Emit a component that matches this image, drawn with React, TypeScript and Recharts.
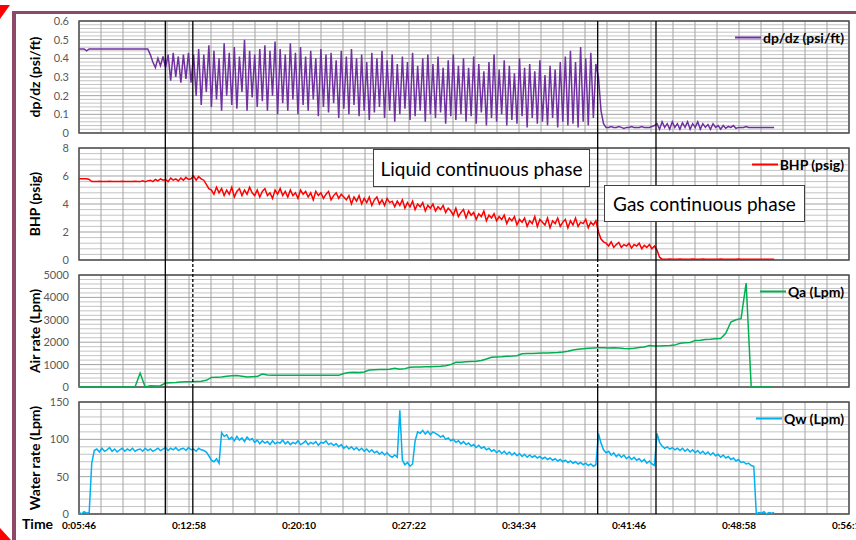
import { LineChart, Line, XAxis, YAxis, CartesianGrid, ReferenceLine, ReferenceArea } from 'recharts'

// time axis labels (h:mm:ss)
const TIME_LABELS = ['0:05:46', '0:12:58', '0:20:10', '0:27:22', '0:34:34', '0:41:46', '0:48:58', '0:56:10']
// flow regime markers (vertical black lines)
const EVENT_TIMES = ['0:11:25', '0:13:13', '0:39:43', '0:43:32']
const EVENT_DOTTED_IN_AIR = [false, true, true, false]

const SERIES_START = '0:05:46'
const STEP_FAST = 10 // s between samples
const STEP_AIR = 20

const DPDZ_TICKS = [0, 0.1, 0.2, 0.3, 0.4, 0.5, 0.6]
const BHP_TICKS = [0, 2, 4, 6, 8]
const AIR_TICKS = [0, 1000, 2000, 3000, 4000, 5000]
const WATER_TICKS = [0, 50, 100, 150]

// dp/dz (psi/ft)
const DPDZ = [
  0.45, 0.45, 0.45, 0.44, 0.45, 0.45, 0.45, 0.45, 0.45, 0.45,
  0.45, 0.45, 0.45, 0.45, 0.45, 0.45, 0.45, 0.45, 0.45, 0.45,
  0.45, 0.45, 0.45, 0.45, 0.45, 0.45, 0.45, 0.45,
  0.42, 0.38, 0.35, 0.40, 0.36, 0.41,
  0.35, 0.42, 0.28, 0.43, 0.30, 0.41, 0.27, 0.42, 0.29, 0.43, 0.27, 0.42,
  0.20, 0.45, 0.15, 0.42, 0.22, 0.47, 0.14, 0.44, 0.18, 0.40,
  0.12, 0.48, 0.20, 0.43, 0.15, 0.46, 0.13, 0.41, 0.22, 0.50,
  0.12, 0.44, 0.19, 0.42, 0.14, 0.45,
  0.17, 0.47, 0.12, 0.44, 0.20, 0.49, 0.10, 0.45, 0.16, 0.42,
  0.12, 0.48, 0.18, 0.43, 0.10, 0.46, 0.15, 0.41, 0.12, 0.44,
  0.18, 0.40, 0.09, 0.45, 0.14, 0.42, 0.11, 0.43, 0.16, 0.39,
  0.08, 0.44, 0.13, 0.41, 0.10, 0.45, 0.15, 0.40, 0.09,
  0.42, 0.12, 0.38, 0.07, 0.43, 0.11, 0.40, 0.14, 0.44, 0.08,
  0.39, 0.12, 0.42, 0.06, 0.37, 0.10, 0.41, 0.13, 0.38, 0.07,
  0.43, 0.09, 0.36, 0.12, 0.40, 0.06, 0.42, 0.10, 0.37, 0.08,
  0.41, 0.11, 0.35, 0.05, 0.39, 0.09, 0.42, 0.07, 0.36,
  0.10, 0.40, 0.06, 0.35, 0.09, 0.41, 0.05, 0.37, 0.11, 0.33,
  0.04, 0.38, 0.08, 0.42, 0.06, 0.34, 0.10, 0.39, 0.04, 0.36,
  0.07, 0.32, 0.05, 0.40, 0.09, 0.35, 0.03, 0.37, 0.08, 0.33,
  0.05, 0.39, 0.06, 0.31, 0.04, 0.36, 0.08, 0.34, 0.03, 0.38,
  0.06,
  0.41, 0.04, 0.44, 0.05, 0.38, 0.03, 0.46, 0.06, 0.40, 0.04, 0.43, 0.08, 0.37,
  0.30, 0.12, 0.05,
  0.03, 0.03, 0.035, 0.03, 0.03, 0.035, 0.03, 0.025, 0.03, 0.03,
  0.035, 0.03, 0.03, 0.03, 0.035, 0.03, 0.03, 0.03, 0.035, 0.04,
  0.05, 0.02, 0.06, 0.03, 0.05, 0.02, 0.06, 0.03, 0.05, 0.02,
  0.055, 0.03, 0.06, 0.02, 0.05, 0.03, 0.06, 0.02, 0.05, 0.03,
  0.045, 0.02, 0.05, 0.03, 0.04, 0.02,
  0.04, 0.025, 0.035, 0.03, 0.04, 0.025, 0.03, 0.03, 0.03, 0.035,
  0.03, 0.03, 0.03, 0.03, 0.03, 0.03, 0.03, 0.03, 0.03, 0.03, 0.03,
]

// BHP (psig)
const BHP = [
  5.8, 5.8, 5.8, 5.8, 5.75, 5.6,
  5.6, 5.6, 5.62, 5.6, 5.6, 5.6, 5.62, 5.6, 5.6, 5.6,
  5.6, 5.62, 5.6, 5.6, 5.6, 5.6, 5.62, 5.6, 5.6, 5.65, 5.6, 5.65,
  5.7, 5.6, 5.75, 5.65, 5.8, 5.7, 5.75, 5.6, 5.85, 5.7,
  5.8, 5.65, 5.85, 5.7, 5.9, 5.75, 5.8,
  6.0, 5.7, 5.95, 5.8, 5.7, 5.4, 5.1,
  5.0, 4.7, 5.2, 4.8, 5.1, 4.6, 5.0, 4.7, 5.2, 4.5,
  4.9, 5.1, 4.6, 5.0, 4.7, 5.2, 4.8, 4.6, 5.0, 4.5,
  4.9, 5.1, 4.6, 4.8, 4.4, 5.0, 4.7, 5.1, 4.6,
  4.9, 4.5, 5.0, 4.6, 4.8, 4.4, 5.0, 4.7, 4.9, 4.5,
  4.8, 4.3, 4.9, 4.6, 4.8, 4.4, 4.7, 4.9, 4.3, 4.6,
  4.8, 4.4, 4.7, 4.5,
  4.3, 4.6, 4.0, 4.5, 4.2, 4.6, 4.0, 4.4, 4.1, 4.5,
  3.9, 4.3, 4.5, 4.0, 4.3, 3.9, 4.4, 4.1, 4.2, 3.8,
  4.2, 3.9, 4.3, 3.7, 4.1, 3.8, 4.2, 3.6, 4.0, 3.8,
  4.1, 3.5, 3.9, 3.7, 4.0, 3.5, 3.8, 3.6, 3.9, 3.4, 3.7,
  3.5, 3.2, 3.7, 3.1, 3.4, 3.6, 3.0, 3.5, 3.2, 3.4,
  2.9, 3.3, 3.1, 3.5, 2.8, 3.2, 3.0, 3.3, 2.8, 3.1,
  2.9, 3.2, 2.6, 3.0, 2.8, 3.1, 2.5, 2.9, 2.7, 3.0,
  2.4, 2.8, 2.6, 3.1, 2.4, 2.9, 2.7, 2.5, 3.0, 2.3,
  2.8, 2.6, 3.0, 2.4, 2.7, 2.9, 2.3, 2.8, 2.5, 3.0,
  2.4, 2.7, 2.6, 2.9, 2.3, 2.7, 2.5, 2.8,
  2.0, 1.5, 1.3,
  1.2, 1.0, 1.3, 0.9, 1.1, 1.25, 0.9, 1.1, 1.0, 1.2,
  0.85, 1.1, 1.0, 1.2, 0.8, 1.05, 0.9, 1.1, 0.8, 1.0,
  0.7, 0.2, 0.06,
  0.06, 0.05, 0.07, 0.05, 0.06, 0.05, 0.07, 0.05, 0.06, 0.05,
  0.05, 0.07, 0.05, 0.06, 0.05, 0.07, 0.05, 0.06, 0.05, 0.05,
  0.06, 0.05, 0.07, 0.05, 0.06, 0.05, 0.05, 0.06, 0.05, 0.07,
  0.05, 0.06, 0.05, 0.05, 0.06, 0.05, 0.06, 0.05, 0.05, 0.06,
  0.05, 0.05, 0.06, 0.05,
]

// Qa air rate (Lpm), sampled every 20 s
const QA = [
  0, 0, 0, 0, 0, 0, 0, 0, 0, 0, 0, 0,
  620, 0, 60, 50, 60,
  180, 190, 200, 220, 230, 230, 250, 260,
  300, 430, 440, 450, 480, 500, 510, 480, 450, 460, 470,
  580, 540, 530, 520,
  520, 520, 525, 520, 520, 520, 525, 520, 520, 520, 525, 520,
  600, 650, 660, 650, 670, 760, 770, 780, 780, 790, 840, 790,
  820, 880, 890, 890, 900, 900, 920, 930, 950,
  1000, 1100, 1110, 1130, 1140, 1150, 1180, 1250, 1330, 1340, 1350, 1370, 1380, 1400,
  1480, 1500, 1500, 1510, 1520, 1520, 1530, 1540, 1560, 1600, 1650, 1680, 1710, 1730, 1740,
  1750, 1750, 1740, 1750, 1740, 1720, 1710, 1730, 1760, 1790, 1850, 1830, 1830, 1840, 1850,
  1870, 1950, 1970, 1990, 2080, 2090, 2120, 2130, 2150, 2160,
  2400, 2900, 3000, 3050, 4640, 0, 0, 0, 0, 0,
]

// Qw water rate (Lpm)
const QW = [
  2, 0, 3, 1, 2,
  68, 85,
  87, 83, 88, 84, 86, 89, 84, 87, 83, 86,
  88, 84, 87, 85, 88, 84, 86, 87, 84, 88,
  85, 87, 84, 86, 88, 85, 87, 89, 85, 88,
  86, 89, 85, 87, 88, 85, 89, 86, 87, 84,
  88, 86, 85, 83,
  78, 72, 70, 74, 68, 109,
  104, 106, 100, 103, 98, 104, 99, 102, 97, 103, 99, 101,
  96, 99, 94, 98, 95, 97, 93, 98, 94, 96,
  95, 99, 94, 97, 93, 96, 94, 98, 93,
  95, 98, 93, 96, 94, 97, 92, 96, 95, 98,
  93, 95, 92, 94, 90, 93, 88, 91, 87, 90,
  86, 89, 85, 88, 84, 87,
  83, 86, 82, 84, 80, 83, 79, 82, 78, 76, 79,
  76, 139,
  72, 66, 69, 64, 67,
  98,
  110, 108, 112, 107, 111, 106, 110, 108,
  106, 103, 105, 100, 102, 98, 100, 96, 98, 94,
  97, 93, 95, 91, 93, 89, 92, 88, 90, 86,
  88, 84, 86, 82, 85, 81, 84, 80, 83, 79,
  82, 78, 81, 77, 80, 76, 79, 76, 78, 75,
  77, 74, 76, 73, 75, 72, 74, 71, 73, 70,
  72, 69, 71, 68, 70, 67, 69, 66, 68, 65,
  67, 64, 66,
  108,
  95, 86, 82, 84,
  79, 82, 77, 80, 76, 79, 74, 77, 73, 76,
  72, 74, 70, 73, 68, 71, 67, 65,
  108,
  96, 91, 88,
  90, 87, 89, 86, 88, 85, 88, 84, 87, 83,
  86, 82, 85, 81, 84, 80, 83, 79, 82, 78,
  80, 76, 79, 75, 77, 73, 75, 71, 73, 69,
  70, 67, 68, 65,
  64, 0,
  2, 1, 3, 0, 2, 1, 2,
]

const W = 856
const PLOT_LEFT = 79
const PLOT_RIGHT = 849
const PLOT_TOP = 21
const PLOT_H = 112
const PITCH = 127
const PAD_TOP = 15
const FONT = 'Lato, "Open Sans", sans-serif'

function toSec(s: string) {
  const [h, m, sec] = s.split(':').map(Number)
  return h * 3600 + m * 60 + sec
}

const X_TICKS = TIME_LABELS.map(toSec)
const XMIN = X_TICKS[0]
const XMAX = X_TICKS[X_TICKS.length - 1]
const X_MINOR: number[] = []
for (let i = 0; i < X_TICKS.length - 1; i++) {
  for (let k = 0; k < 5; k++) X_MINOR.push(X_TICKS[i] + ((X_TICKS[i + 1] - X_TICKS[i]) * k) / 5)
}
X_MINOR.push(XMAX)

function minorOf(ticks: number[]) {
  const out: number[] = []
  for (let i = 0; i < ticks.length - 1; i++) {
    for (let k = 1; k < 5; k++) out.push(ticks[i] + ((ticks[i + 1] - ticks[i]) * k) / 5)
  }
  return out
}

interface PanelCfg {
  title: string
  legend: string
  color: string
  values: number[]
  step: number
  ticks: number[]
}

const PANELS: PanelCfg[] = [
  { title: 'dp/dz (psi/ft)', legend: 'dp/dz (psi/ft)', color: '#7030a0', values: DPDZ, step: STEP_FAST, ticks: DPDZ_TICKS },
  { title: 'BHP (psig)', legend: 'BHP (psig)', color: '#ff0000', values: BHP, step: STEP_FAST, ticks: BHP_TICKS },
  { title: 'Air rate (Lpm)', legend: 'Qa (Lpm)', color: '#00b050', values: QA, step: STEP_AIR, ticks: AIR_TICKS },
  { title: 'Water rate (Lpm)', legend: 'Qw (Lpm)', color: '#00b0f0', values: QW, step: STEP_FAST, ticks: WATER_TICKS },
]

function Panel({ cfg, index }: { cfg: PanelCfg; index: number }) {
  const last = index === PANELS.length - 1
  const start = toSec(SERIES_START)
  const data = cfg.values.map((v, i) => ({ t: start + i * cfg.step, v }))
  const yMin = cfg.ticks[0]
  const yMax = cfg.ticks[cfg.ticks.length - 1]
  const xAxisH = last ? 25 : 0
  const bottom = last ? 0 : 8
  const height = PAD_TOP + PLOT_H + xAxisH + bottom
  // event lines run up through the gap to the panel above
  const lineTop = index === 0 ? yMax : yMax + ((yMax - yMin) * PAD_TOP) / PLOT_H

  return (
    <div style={{ position: 'absolute', left: 0, top: PLOT_TOP + index * PITCH - PAD_TOP, width: W, height }}>
      <LineChart width={W} height={height} data={data} margin={{ top: PAD_TOP, right: W - PLOT_RIGHT, bottom, left: 0 }}>
        <CartesianGrid horizontalValues={minorOf(cfg.ticks)} vertical={false} stroke="#c4c4c4" strokeWidth={1} />
        <CartesianGrid horizontalValues={cfg.ticks} verticalValues={X_MINOR} stroke="#a3a3a3" strokeWidth={1} />
        <XAxis
          type="number"
          dataKey="t"
          domain={[XMIN, XMAX]}
          ticks={X_TICKS}
          interval={0}
          hide={!last}
          height={25}
          axisLine={false}
          tickLine={false}
          tickSize={0}
          tickMargin={8}
          tick={{ fontSize: 10, fontWeight: 700, fill: '#000' }}
          tickFormatter={(v: number) => TIME_LABELS[X_TICKS.indexOf(v)] ?? ''}
        />
        <YAxis
          type="number"
          domain={[yMin, yMax]}
          ticks={cfg.ticks}
          interval={0}
          width={PLOT_LEFT}
          axisLine={false}
          tickLine={false}
          tickSize={0}
          tickMargin={10}
          tick={{ fontSize: 11, fill: '#595959' }}
        />
        <Line type="linear" dataKey="v" stroke={cfg.color} strokeWidth={1.5} dot={false} isAnimationActive={false} />
        <ReferenceArea x1={XMIN} x2={XMAX} y1={yMin} y2={yMax} fill="none" stroke="#505050" strokeWidth={1.5} />
        {EVENT_TIMES.map((e, i) => (
          <ReferenceLine
            key={e}
            segment={[{ x: toSec(e), y: yMin }, { x: toSec(e), y: lineTop }]}
            ifOverflow="visible"
            stroke="#000"
            strokeWidth={1.3}
            strokeDasharray={index === 2 && EVENT_DOTTED_IN_AIR[i] ? '3 2' : undefined}
          />
        ))}
      </LineChart>
      <div
        style={{
          position: 'absolute', left: 34, top: PAD_TOP + PLOT_H / 2,
          transform: 'translate(-50%, -50%) rotate(-90deg)', whiteSpace: 'nowrap',
          fontWeight: 700, fontSize: 14, color: '#000',
        }}
      >
        {cfg.title}
      </div>
      <div
        style={{
          position: 'absolute', right: 12, top: PAD_TOP + 16, transform: 'translateY(-50%)',
          display: 'flex', alignItems: 'center', fontWeight: 700, fontSize: 14, color: '#000',
        }}
      >
        <span style={{ display: 'inline-block', width: 26, height: 2, background: cfg.color, marginRight: 2 }} />
        <span>{cfg.legend}</span>
      </div>
    </div>
  )
}

const boxStyle: React.CSSProperties = {
  position: 'absolute', background: '#fff', border: '1px solid #404040',
  display: 'flex', alignItems: 'center', justifyContent: 'center',
  fontSize: 19, color: '#000', whiteSpace: 'nowrap',
}

export default function App() {
  return (
    <div style={{ position: 'absolute', left: 0, top: 0, width: W, height: 540, background: '#fff', overflow: 'hidden', fontFamily: FONT }}>
      {/* slide frame */}
      <div style={{ position: 'absolute', left: 12, top: 11, width: 900, height: 600, borderTop: '3px solid #8e4868', borderLeft: '4px solid #8e4868' }} />
      <div style={{ position: 'absolute', left: 0, top: 5, width: 10, height: 14, background: '#ff0000', clipPath: 'polygon(0 0, 100% 0, 0 100%)' }} />
      <div style={{ position: 'absolute', left: 0, top: 528, width: 11, height: 12, background: '#ff0000', clipPath: 'polygon(0 0, 100% 100%, 0 100%)' }} />

      {PANELS.map((p, i) => (
        <Panel key={p.title} cfg={p} index={i} />
      ))}

      <div style={{ ...boxStyle, left: 373, top: 149, width: 215, height: 36 }}>Liquid continuous phase</div>
      <div style={{ ...boxStyle, left: 604, top: 185, width: 199, height: 35 }}>Gas continuous phase</div>

      <div style={{ position: 'absolute', left: 22, top: 515, fontWeight: 700, fontSize: 14, color: '#000' }}>Time</div>
    </div>
  )
}
